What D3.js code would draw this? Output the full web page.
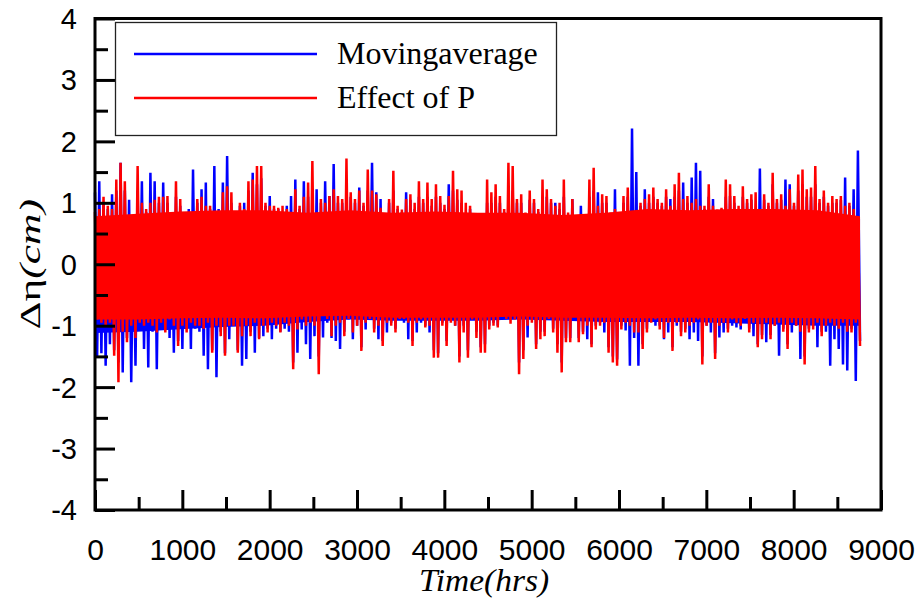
<!DOCTYPE html>
<html>
<head>
<meta charset="utf-8">
<script src="https://cdn.jsdelivr.net/npm/d3@7"></script>
<style>
  body { margin: 0; background: #fff; }
  svg { display: block; }
</style>
</head>
<body>
<svg id="chart" width="920" height="604"></svg>
<script>
// Axis ticks
const xMajorTicks = [0, 1000, 2000, 3000, 4000, 5000, 6000, 7000, 8000, 9000];
const xMinorTicks = [500, 1500, 2500, 3500, 4500, 5500, 6500, 7500, 8500];
const yMajorTicks = [-4, -3, -2, -1, 0, 1, 2, 3, 4];
const yMinorTicks = [-3.5, -2.5, -1.5, -0.5, 0.5, 1.5, 2.5, 3.5];

const seriesNames = ["Movingaverage", "Effect of P"];
const recordHours = 8760;

// Local peaks and troughs of the hourly anomaly (cm), alternating in time
const movingPeaks = [
  1.17, 1.35, 1.0, 0.9, 1.14, 1.2, 1.65, 1.2, 1.05, 0.7,
  1.2, 1.35, 0.85, 1.49, 1.35, 1.0, 1.33, 1.0, 0.8, 1.1,
  0.95, 0.82, 0.9, 1.54, 1.0, 1.22, 1.33, 0.9, 1.6, 0.9,
  1.33, 1.76, 1.0, 0.7, 0.95, 1.0, 1.2, 1.49, 1.3, 1.4,
  0.95, 1.11, 0.9, 0.9, 0.85, 0.95, 1.11,
  1.38, 0.9, 1.35, 1.1, 1.0, 1.22, 1.0, 1.35, 1.11, 1.63,
  1.0, 1.0, 1.2, 1.1, 1.0, 1.25, 0.95, 1.2, 1.65, 1.17,
  1.06, 0.7, 1.0, 1.2, 0.9, 0.85, 1.17, 1.05, 0.9, 1.1,
  1.0, 1.1, 0.95, 1.1, 1.0, 0.9, 1.3, 1.2, 1.05, 1.0,
  0.73, 0.9, 0.73, 0.7,
  0.8, 1.0, 1.0, 1.1, 1.0, 0.85, 1.1, 1.2, 1.0, 1.0,
  0.8, 1.05, 1.0, 0.85, 1.1, 1.1, 1.0, 1.0, 0.9, 1.1,
  0.8, 1.06, 0.7, 0.95, 0.7, 1.1, 1.2, 1.17, 1.0, 1.0,
  0.8, 1.22, 0.8, 1.0, 1.1, 2.21, 1.5, 0.95, 1.22, 1.0,
  1.1, 1.0, 0.95, 1.1, 1.06,
  1.1, 1.2, 1.33, 1.0, 1.41, 1.65, 1.52, 0.9, 1.1, 1.06,
  0.85, 0.9, 1.1, 1.11, 1.0, 0.9, 1.1, 1.0, 1.05, 0.73,
  1.56, 1.05, 0.95, 1.3, 1.0, 1.05, 1.38, 1.3, 0.95, 1.2,
  1.3, 1.1, 1.1, 1.3, 1.0, 1.1, 0.95, 1.0, 1.0, 1.05,
  1.41, 0.95, 1.22, 1.85
];
const movingTroughs = [
  -1.5, -1.45, -1.65, -1.3, -1.4, -1.6, -1.76, -1.2, -1.92, -1.65,
  -1.0, -1.38, -1.68, -1.1, -1.71, -1.0, -1.05, -1.2, -1.44, -1.25,
  -1.38, -1.05, -1.38, -1.05, -1.1, -1.49, -1.71, -1.4, -1.84, -1.1,
  -1.45, -1.22, -0.95, -1.4, -1.65, -1.54, -1.1, -1.44, -1.2, -1.17,
  -1.05, -1.22, -1.05, -1.1, -1.05, -1.1, -1.6,
  -1.44, -1.06, -1.3, -1.54, -1.17, -1.5, -1.19, -0.95, -1.2, -1.25,
  -1.38, -1.1, -0.9, -1.22, -1.0, -1.35, -1.06, -0.9, -1.05, -1.22,
  -1.25, -1.11, -0.95, -1.05, -0.9, -0.95, -1.22, -1.25, -1.11, -0.95,
  -1.0, -1.11, -1.4, -1.45, -0.95, -1.25, -0.9, -1.0, -1.5, -1.0,
  -1.4, -0.89, -1.1, -1.35,
  -1.3, -1.0, -0.95, -1.0, -0.73, -0.85, -0.9, -0.85, -1.6, -1.4,
  -1.19, -0.9, -1.3, -1.1, -1.1, -0.85, -1.05, -1.3, -1.6, -1.2,
  -1.2, -0.89, -1.2, -1.1, -1.22, -1.3, -1.0, -0.95, -1.11, -1.35,
  -1.5, -1.55, -1.0, -1.08, -1.65, -1.2, -1.65, -1.3, -1.05, -0.9,
  -1.0, -1.0, -1.22, -1.11, -1.35,
  -1.0, -1.1, -1.05, -1.22, -1.11, -1.25, -1.5, -1.0, -1.11, -1.45,
  -1.19, -1.11, -1.05, -1.0, -1.03, -1.06, -0.85, -1.05, -1.17, -1.3,
  -1.15, -1.27, -1.15, -1.0, -1.49, -1.05, -1.3, -1.11, -1.0, -1.54,
  -1.5, -1.05, -1.0, -1.35, -1.1, -1.1, -1.65, -1.22, -1.38, -1.63,
  -1.73, -1.05, -1.9, -1.25
];
const effectPeaks = [
  0.85, 0.9, 1.1, 0.95, 0.9, 1.38, 1.65, 1.35, 0.8, 0.65,
  1.6, 1.0, 0.9, 1.0, 1.05, 1.1, 1.1, 1.11, 0.8, 1.35,
  1.06, 0.84, 0.8, 0.65, 1.06, 1.1, 0.95, 0.95, 0.84, 0.84,
  1.17, 1.27, 1.17, 0.73, 1.0, 0.9, 1.35, 1.38, 1.6, 1.6,
  1.0, 0.95, 0.95, 0.92, 0.95, 0.9, 0.85,
  1.22, 0.95, 1.1, 1.33, 1.68, 0.75, 1.06, 1.0, 1.11, 1.22,
  1.11, 1.06, 1.72, 1.17, 1.06, 1.2, 1.0, 1.54, 1.2, 1.14,
  0.92, 0.73, 1.06, 1.52, 0.95, 0.89, 1.06, 1.14, 1.0, 1.35,
  1.06, 1.33, 1.06, 1.3, 1.11, 0.97, 1.11, 1.52, 1.22, 1.2,
  1.0, 0.95, 0.73, 0.75,
  0.75, 1.38, 1.17, 1.3, 1.11, 0.9, 1.65, 1.6, 1.06, 1.14,
  0.84, 1.2, 1.06, 0.9, 1.38, 1.22, 1.06, 0.95, 1.0, 1.38,
  0.84, 1.06, 0.7, 0.79, 0.73, 1.38, 1.57, 0.95, 1.14, 1.11,
  0.84, 0.9, 0.82, 1.11, 1.25, 0.8, 0.85, 1.0, 1.06, 1.14,
  1.25, 1.06, 1.0, 1.22, 0.95,
  1.3, 1.49, 1.06, 1.11, 1.0, 1.06, 0.95, 0.95, 1.3, 0.95,
  0.89, 0.92, 1.38, 1.3, 1.11, 0.95, 1.27, 1.06, 1.14, 1.17,
  0.85, 1.14, 1.0, 1.49, 1.06, 1.14, 0.95, 1.22, 1.0, 1.46,
  1.54, 1.22, 1.25, 1.6, 1.06, 1.2, 1.0, 1.11, 1.06, 1.11,
  0.95, 1.0, 0.9, 0.7
];
const effectTroughs = [
  -0.9, -0.95, -1.0, -0.95, -1.49, -1.92, -1.1, -1.27, -1.0, -1.2,
  -0.95, -1.0, -0.95, -1.0, -1.11, -0.95, -1.11, -0.9, -1.0, -1.33,
  -1.0, -1.11, -0.95, -1.0, -1.0, -1.05, -0.95, -1.44, -1.0, -1.17,
  -1.49, -1.0, -1.0, -1.44, -1.17, -1.0, -1.17, -0.95, -1.22, -1.0,
  -1.11, -0.95, -1.0, -1.11, -0.95, -1.0, -1.71,
  -1.06, -0.9, -1.0, -0.95, -1.0, -1.79, -0.84, -0.89, -1.17, -1.0,
  -0.95, -1.17, -0.89, -1.11, -1.0, -1.41, -0.95, -0.89, -1.11, -1.0,
  -1.33, -0.95, -1.0, -1.11, -0.89, -0.89, -0.95, -1.33, -0.95, -0.9,
  -1.03, -1.0, -1.52, -1.52, -1.0, -1.33, -0.95, -1.0, -1.6, -1.11,
  -1.52, -0.9, -1.2, -1.44,
  -1.44, -1.06, -1.0, -1.03, -0.8, -0.89, -0.97, -0.9, -1.79, -1.54,
  -1.0, -0.95, -1.38, -1.22, -1.17, -0.89, -1.11, -1.44, -1.76, -1.27,
  -1.27, -0.79, -1.27, -1.14, -1.0, -1.35, -1.06, -1.0, -0.95, -1.44,
  -1.6, -1.65, -1.06, -0.95, -1.0, -1.11, -1.11, -1.38, -1.11, -0.95,
  -0.9, -1.06, -1.2, -0.95, -1.41,
  -0.95, -1.17, -1.11, -1.0, -0.95, -0.9, -1.63, -1.0, -0.95, -1.54,
  -1.0, -0.95, -1.11, -0.9, -0.95, -1.0, -0.89, -1.11, -0.95, -1.35,
  -1.22, -0.95, -1.22, -1.0, -0.95, -1.1, -1.38, -0.95, -1.0, -1.1,
  -1.63, -1.11, -1.06, -0.95, -1.17, -1.0, -0.95, -1.0, -1.05, -0.95,
  -1.1, -1.11, -0.95, -1.33
];

// Range that the dense hourly trace fills solidly (cm), every ~487 hrs
const movingBandUpper = [0.74, 0.76, 0.78, 0.8, 0.82, 0.78, 0.8, 0.78, 0.8, 0.78, 0.78, 0.76, 0.78, 0.86, 0.82, 0.86, 0.86, 0.84, 0.74];
const movingBandLower = [-1.12, -1.1, -1.06, -1.02, -1.0, -0.94, -0.9, -0.92, -0.92, -0.92, -0.9, -0.92, -0.94, -0.94, -0.94, -0.96, -0.98, -1.0, -1.0];
const effectBandUpper = [0.78, 0.82, 0.86, 0.88, 0.88, 0.84, 0.88, 0.84, 0.86, 0.84, 0.84, 0.8, 0.84, 0.9, 0.88, 0.9, 0.9, 0.88, 0.78];
const effectBandLower = [-0.9, -0.9, -0.88, -0.87, -0.88, -0.85, -0.84, -0.87, -0.87, -0.87, -0.85, -0.87, -0.87, -0.88, -0.87, -0.88, -0.87, -0.88, -0.9];

const seriesColors = ["#0000ff", "#ff0000"];

// Join peaks and troughs into one time-ordered trace spanning the record
function trace(peaks, troughs) {
  const vals = [];
  peaks.forEach((p, i) => { vals.push(p); vals.push(troughs[i]); });
  const dt = recordHours / (vals.length - 1);
  return vals.map((v, k) => ({ t: k * dt, v }));
}
function band(upper, lower) {
  const dt = recordHours / (upper.length - 1);
  return upper.map((u, k) => ({ t: k * dt, hi: u, lo: lower[k] }));
}
const series = [
  { name: seriesNames[0], color: seriesColors[0],
    data: trace(movingPeaks, movingTroughs), band: band(movingBandUpper, movingBandLower) },
  { name: seriesNames[1], color: seriesColors[1],
    data: trace(effectPeaks, effectTroughs), band: band(effectBandUpper, effectBandLower) }
];

const svg = d3.select("#chart");
const plotLeft = 95, plotRight = 881, plotTop = 18.5, plotBottom = 510;

const x = d3.scaleLinear().domain([0, 9000]).range([plotLeft, plotRight]);
const y = d3.scaleLinear().domain([-4, 4]).range([plotBottom, plotTop]);

// Series: solid core of the hourly trace, then its peaks and troughs
const line = d3.line().x(d => x(d.t)).y(d => y(d.v));
const area = d3.area().x(d => x(d.t)).y0(d => y(d.lo)).y1(d => y(d.hi));
const sg = svg.append("g").selectAll("g").data(series).join("g");
sg.append("path")
  .attr("d", d => area(d.band))
  .attr("fill", d => d.color);
sg.append("path")
  .attr("d", d => line(d.data))
  .attr("fill", "none")
  .attr("stroke", d => d.color)
  .attr("stroke-width", 2.5)
  .attr("stroke-linejoin", "bevel");

// Inward ticks
function styleAxis(g) {
  g.select(".domain").remove();
  g.selectAll(".tick line").attr("stroke", "#000").attr("stroke-width", 3);
}
const plainNumber = d => String(d);
svg.append("g").attr("transform", `translate(0,${plotBottom})`)
  .call(d3.axisBottom(x).tickValues(xMinorTicks).tickSize(-13).tickFormat(""))
  .call(styleAxis);
const xAxis = svg.append("g").attr("transform", `translate(0,${plotBottom})`)
  .call(d3.axisBottom(x).tickValues(xMajorTicks).tickSize(-20).tickFormat(plainNumber))
  .call(styleAxis);
xAxis.selectAll(".tick text")
  .attr("y", 50).attr("dy", 0)
  .attr("font-family", "'Liberation Sans', Arial, sans-serif")
  .attr("font-size", 30).attr("fill", "#000");

svg.append("g").attr("transform", `translate(${plotLeft},0)`)
  .call(d3.axisLeft(y).tickValues(yMinorTicks).tickSize(-13).tickFormat(""))
  .call(styleAxis);
const yAxis = svg.append("g").attr("transform", `translate(${plotLeft},0)`)
  .call(d3.axisLeft(y).tickValues(yMajorTicks).tickSize(-20).tickFormat(plainNumber))
  .call(styleAxis);
yAxis.selectAll(".tick text")
  .attr("x", -18).attr("dy", "0.34em")
  .attr("text-anchor", "end")
  .attr("font-family", "'Liberation Sans', Arial, sans-serif")
  .attr("font-size", 29).attr("fill", "#000");

// Frame
svg.append("rect")
  .attr("x", plotLeft).attr("y", plotTop)
  .attr("width", plotRight - plotLeft).attr("height", plotBottom - plotTop)
  .attr("fill", "none").attr("stroke", "#000").attr("stroke-width", 3);

// Axis titles
svg.append("text")
  .attr("transform", `translate(${(plotLeft + plotRight) / 2 - 4},591) scale(1.08,1)`)
  .attr("text-anchor", "middle")
  .attr("font-family", "'Liberation Serif', 'Times New Roman', serif")
  .attr("font-style", "italic")
  .attr("font-size", 31)
  .text("Time(hrs)");

const yTitle = svg.append("text")
  .attr("transform", `translate(40,${(plotTop + plotBottom) / 2}) rotate(-90) scale(1.45,1)`)
  .attr("text-anchor", "middle")
  .attr("font-family", "'Liberation Serif', 'Times New Roman', serif")
  .attr("font-size", 30);
yTitle.append("tspan").text("Δη");
yTitle.append("tspan").attr("font-style", "italic").text("(cm)");

// Legend
const legend = svg.append("g");
legend.append("rect")
  .attr("x", 115.5).attr("y", 22.5).attr("width", 441).attr("height", 113)
  .attr("fill", "#fff").attr("stroke", "#222").attr("stroke-width", 1.3);
series.forEach((s, i) => {
  const ly = 54 + i * 44;
  legend.append("line")
    .attr("x1", 134).attr("x2", 317).attr("y1", ly).attr("y2", ly)
    .attr("stroke", s.color).attr("stroke-width", 2.5);
  legend.append("text")
    .attr("x", 337).attr("y", ly + 10)
    .attr("font-family", "'Liberation Serif', 'Times New Roman', serif")
    .attr("font-size", 32)
    .text(s.name);
});
</script>
</body>
</html>
